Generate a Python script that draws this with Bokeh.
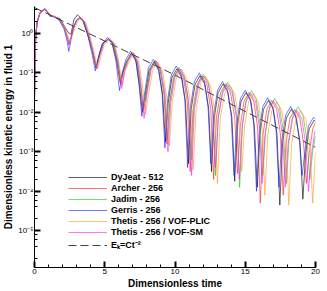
from bokeh.plotting import figure
from bokeh.models import (Range1d, SingleIntervalTicker, LogTicker, CustomJSTickFormatter,
                          Legend, LegendItem)
from bokeh.embed import file_html
from bokeh.resources import INLINE

# ---------------- data ----------------
dyjeat_t = [0.0, 0.04, 0.1, 0.2, 0.4, 0.7, 0.95, 1.2, 1.5, 1.8, 2.1, 2.4, 2.6, 2.8, 3.05, 3.4, 3.78, 4.13,
            4.37, 4.6, 4.85, 5.24, 5.55, 5.85,
            6.1, 6.3, 6.54, 6.89, 7.24, 7.48,
            7.68, 7.88, 8.15, 8.5, 8.85, 9.12,
            9.32, 9.52, 9.78, 10.13, 10.48, 10.75,
            10.95, 11.15, 11.43, 11.78, 12.13, 12.4,
            12.6, 12.8, 13.07, 13.42, 13.77, 14.05,
            14.25, 14.45, 14.7, 15.05, 15.4, 15.65,
            15.85, 16.05, 16.3, 16.65, 17.0, 17.26,
            17.46, 17.66, 17.93, 18.28, 18.63, 18.9,
            19.1, 19.3, 19.55, 19.9, 20.0]
dyjeat_e = [0.02, 0.3, 1.0, 2.0, 3.3, 4.0, 3.4, 2.8, 2.5, 2.4, 1.6, 1.05, 0.95, 2.2, 2.95, 2.3, 0.93, 0.35,
            0.135, 0.29, 0.56, 0.71, 0.55, 0.2,
            0.056, 0.112, 0.19, 0.316, 0.19, 0.045,
            0.01, 0.027, 0.115, 0.19, 0.115, 0.027,
            1.78e-3, 0.0178, 0.0759, 0.126, 0.0759, 0.0178,
            5.0e-4, 0.012, 0.0513, 0.0851, 0.0513, 0.012,
            3.16e-4, 7.41e-3, 0.0316, 0.0525, 0.0316, 7.41e-3,
            1.78e-4, 4.47e-3, 0.019, 0.0316, 0.019, 4.47e-3,
            1.26e-4, 2.82e-3, 0.012, 0.02, 0.012, 2.82e-3,
            4.47e-5, 1.70e-3, 7.24e-3, 0.012, 7.24e-3, 1.70e-3,
            6.31e-5, 8.9e-4, 3.8e-3, 6.31e-3, 5.9e-3]

archer_t = [0.0, 0.04, 0.1, 0.2, 0.4, 0.72, 0.95, 1.1, 1.43, 1.78, 2.13, 2.35, 2.45, 2.6, 2.75, 3.0, 3.2, 3.5, 3.85, 4.15,
            4.4, 4.63, 4.9, 5.28, 5.6, 5.9,
            6.15, 6.35, 6.6, 6.95, 7.3, 7.55,
            7.75, 7.95, 8.24, 8.59, 8.94, 9.22,
            9.42, 9.62, 9.9, 10.25, 10.6, 10.88,
            11.08, 11.28, 11.57, 11.92, 12.27, 12.55,
            12.75, 12.95, 13.25, 13.6, 13.95, 14.25,
            14.45, 14.65, 14.91, 15.26, 15.61, 15.87,
            16.07, 16.27, 16.54, 16.89, 17.24, 17.5,
            17.7, 17.9, 18.18, 18.53, 18.88, 19.15,
            19.35, 19.55, 19.8, 20.0]
archer_e = [0.02, 0.3, 1.0, 2.0, 3.3, 4.1, 3.3, 2.8, 2.7, 2.2, 1.35, 0.75, 0.52, 0.8, 1.4, 2.2, 2.45, 2.0, 0.85, 0.32,
            0.141, 0.282, 0.562, 0.724, 0.562, 0.19,
            0.05, 0.112, 0.19, 0.316, 0.19, 0.0447,
            0.0112, 0.0269, 0.115, 0.19, 0.115, 0.0269,
            1.58e-3, 0.0178, 0.0759, 0.126, 0.0759, 0.0178,
            3.16e-4, 0.0117, 0.0501, 0.0832, 0.0501, 0.0117,
            2.0e-4, 7.41e-3, 0.0316, 0.0525, 0.0316, 7.41e-3,
            2.82e-4, 4.47e-3, 0.019, 0.0316, 0.019, 4.47e-3,
            5.0e-5, 2.82e-3, 0.012, 0.02, 0.012, 2.82e-3,
            7.94e-5, 1.66e-3, 7.08e-3, 0.0117, 7.08e-3, 1.66e-3,
            1.58e-4, 8.9e-4, 3.8e-3, 5.62e-3]

jadim_t = [0.0, 0.04, 0.1, 0.2, 0.4, 0.72, 0.95, 1.1, 1.43, 1.78, 2.13, 2.35, 2.47, 2.62, 2.8, 3.02, 3.25, 3.55, 3.88, 4.17,
           4.4, 4.63, 4.9, 5.28, 5.6, 5.9,
           6.15, 6.35, 6.6, 6.95, 7.3, 7.55,
           7.75, 7.95, 8.25, 8.6, 8.95, 9.25,
           9.45, 9.65, 9.95, 10.3, 10.65, 10.95,
           11.15, 11.35, 11.67, 12.02, 12.37, 12.68,
           12.88, 13.08, 13.39, 13.74, 14.09, 14.4,
           14.6, 14.8, 15.08, 15.43, 15.78, 16.05,
           16.25, 16.45, 16.74, 17.09, 17.44, 17.72,
           17.92, 18.12, 18.41, 18.76, 19.11, 19.4,
           19.6, 19.8, 20.0]
jadim_e = [0.02, 0.3, 1.0, 2.0, 3.3, 4.1, 3.3, 2.7, 2.65, 2.2, 1.4, 0.8, 0.56, 0.8, 1.4, 2.15, 2.4, 1.95, 0.85, 0.33,
           0.141, 0.282, 0.562, 0.741, 0.562, 0.2,
           0.0631, 0.117, 0.2, 0.331, 0.2, 0.0468,
           0.0112, 0.0295, 0.126, 0.209, 0.126, 0.0295,
           2.0e-3, 0.0195, 0.0832, 0.138, 0.0832, 0.0195,
           6.31e-4, 0.0132, 0.0562, 0.0933, 0.0562, 0.0132,
           2.51e-4, 8.13e-3, 0.0347, 0.0575, 0.0347, 8.13e-3,
           1.26e-4, 5.01e-3, 0.0214, 0.0355, 0.0214, 5.01e-3,
           2.51e-4, 3.16e-3, 0.0135, 0.0224, 0.0135, 3.16e-3,
           1.58e-4, 1.95e-3, 8.32e-3, 0.0138, 8.32e-3, 1.95e-3,
           2.0e-4, 1.07e-3, 2.51e-3]

gerris_t = [0.0, 0.04, 0.1, 0.2, 0.4, 0.72, 0.95, 1.1, 1.43, 1.78, 2.1, 2.3, 2.44, 2.6, 2.75, 2.98, 3.2, 3.5, 3.8, 4.1,
            4.33, 4.56, 4.8, 5.19, 5.5, 5.8,
            6.05, 6.25, 6.5, 6.85, 7.2, 7.44,
            7.64, 7.84, 8.11, 8.46, 8.81, 9.08,
            9.28, 9.48, 9.74, 10.09, 10.44, 10.7,
            10.9, 11.1, 11.38, 11.73, 12.08, 12.35,
            12.55, 12.75, 13.03, 13.38, 13.73, 14.0,
            14.2, 14.4, 14.65, 15.0, 15.35, 15.6,
            15.8, 16.0, 16.25, 16.6, 16.95, 17.2,
            17.4, 17.6, 17.88, 18.23, 18.58, 18.85,
            19.05, 19.25, 19.5, 19.85, 20.0]
gerris_e = [0.02, 0.3, 1.0, 2.0, 3.4, 4.2, 3.3, 2.7, 2.6, 2.1, 1.3, 0.7, 0.35, 0.7, 1.3, 2.1, 2.5, 2.0, 0.9, 0.3,
            0.112, 0.25, 0.52, 0.79, 0.6, 0.2,
            0.0355, 0.1, 0.214, 0.355, 0.214, 0.05,
            7.94e-3, 0.031, 0.132, 0.219, 0.132, 0.031,
            1.26e-3, 0.0209, 0.0891, 0.148, 0.0891, 0.0209,
            3.98e-4, 0.0141, 0.0603, 0.1, 0.0603, 0.0141,
            5.0e-4, 8.5e-3, 0.0363, 0.0603, 0.0363, 8.5e-3,
            2.51e-4, 5.13e-3, 0.0219, 0.0363, 0.0219, 5.13e-3,
            1.0e-4, 3.31e-3, 0.0141, 0.0234, 0.0141, 3.31e-3,
            1.26e-4, 2.0e-3, 8.5e-3, 0.0141, 8.5e-3, 2.0e-3,
            2.51e-4, 1.05e-3, 4.47e-3, 7.41e-3, 6.76e-3]

plic_t = [0.0, 0.04, 0.1, 0.2, 0.4, 0.75, 0.98, 1.12, 1.45, 1.8, 2.15, 2.38, 2.52, 2.68, 2.88, 3.1, 3.32, 3.65, 3.98, 4.27,
          4.5, 4.73, 5.0, 5.38, 5.7, 6.0,
          6.25, 6.45, 6.73, 7.08, 7.43, 7.7,
          7.9, 8.1, 8.4, 8.75, 9.1, 9.4,
          9.6, 9.8, 10.1, 10.45, 10.8, 11.1,
          11.3, 11.5, 11.81, 12.16, 12.51, 12.82,
          13.02, 13.22, 13.54, 13.89, 14.24, 14.55,
          14.75, 14.95, 15.23, 15.58, 15.93, 16.2,
          16.4, 16.6, 16.9, 17.25, 17.6, 17.9,
          18.1, 18.3, 18.6, 18.95, 19.3, 19.6,
          19.8, 20.0]
plic_e = [0.02, 0.3, 1.0, 2.0, 3.3, 4.0, 3.3, 2.75, 2.65, 2.2, 1.45, 0.85, 0.62, 0.85, 1.4, 2.1, 2.35, 1.9, 0.8, 0.3,
          0.126, 0.269, 0.562, 0.724, 0.562, 0.19,
          0.05, 0.112, 0.19, 0.316, 0.19, 0.0447,
          8.91e-3, 0.0269, 0.115, 0.19, 0.115, 0.0269,
          1.41e-3, 0.0178, 0.0759, 0.126, 0.0759, 0.0178,
          3.55e-4, 0.0117, 0.0501, 0.0832, 0.0501, 0.0117,
          1.58e-4, 7.08e-3, 0.0302, 0.0501, 0.0302, 7.08e-3,
          3.16e-4, 4.27e-3, 0.0182, 0.0302, 0.0182, 4.27e-3,
          7.94e-5, 2.63e-3, 0.0112, 0.0186, 0.0112, 2.63e-3,
          4.47e-5, 1.55e-3, 6.61e-3, 0.011, 6.61e-3, 1.55e-3,
          5.01e-5, 1.0e-3]

sm_t = [0.0, 0.04, 0.1, 0.2, 0.4, 0.75, 0.95, 1.1, 1.43, 1.78, 2.13, 2.35, 2.45, 2.6, 2.78, 3.0, 3.22, 3.55, 3.9, 4.18,
        4.42, 4.65, 4.93, 5.31, 5.65, 5.95,
        6.2, 6.4, 6.65, 7.0, 7.35, 7.6,
        7.8, 8.0, 8.3, 8.65, 9.0, 9.3,
        9.5, 9.7, 9.99, 10.34, 10.69, 10.98,
        11.18, 11.38, 11.68, 12.03, 12.38, 12.68,
        12.88, 13.08, 13.38, 13.73, 14.08, 14.38,
        14.58, 14.78, 15.04, 15.39, 15.74, 16.0,
        16.2, 16.4, 16.68, 17.03, 17.38, 17.65,
        17.85, 18.05, 18.33, 18.68, 19.03, 19.3,
        19.5, 19.7, 19.95, 20.0]
sm_e = [0.02, 0.3, 1.05, 2.1, 3.5, 4.3, 3.5, 2.8, 2.7, 2.25, 1.35, 0.75, 0.5, 0.8, 1.4, 2.2, 2.5, 2.0, 0.85, 0.32,
        0.126, 0.269, 0.562, 0.741, 0.562, 0.19,
        0.0398, 0.105, 0.195, 0.324, 0.195, 0.0457,
        7.08e-3, 0.0282, 0.12, 0.2, 0.12, 0.0282,
        1.0e-3, 0.0178, 0.0759, 0.126, 0.0759, 0.0178,
        2.51e-4, 0.0117, 0.0501, 0.0832, 0.0501, 0.0117,
        3.98e-4, 7.08e-3, 0.0302, 0.0501, 0.0302, 7.08e-3,
        2.0e-4, 4.27e-3, 0.0182, 0.0302, 0.0182, 4.27e-3,
        1.58e-4, 2.69e-3, 0.0115, 0.0191, 0.0115, 2.69e-3,
        1.26e-4, 1.58e-3, 6.76e-3, 0.0112, 6.76e-3, 1.58e-3,
        1.0e-4, 8.5e-4, 3.16e-3, 3.55e-3]

fit_t = [0.0, 5.0, 10.0, 15.0, 20.0]
fit_e = [4.5, 0.64, 0.088, 0.0105, 1.3e-3]

series = [
    ("DyJeat - 512", dyjeat_t, dyjeat_e, "#000000"),
    ("Archer - 256", archer_t, archer_e, "#ff2020"),
    ("Jadim - 256", jadim_t, jadim_e, "#10d010"),
    ("Gerris - 256", gerris_t, gerris_e, "#2020ff"),
    ("Thetis - 256 / VOF-PLIC", plic_t, plic_e, "#ff9a20"),
    ("Thetis - 256 / VOF-SM", sm_t, sm_e, "#ff20ff"),
]
fit_label = "E\u2096=Ct\u207b\u00b2"
x_title = "Dimensionless time"
y_title = "Dimensionless kinetic energy in fluid 1"

# ---------------- figure ----------------
FONT = "Liberation Sans"
p = figure(width=320, height=291,
           min_border_left=31, min_border_top=6, min_border_right=5, min_border_bottom=22,
           x_range=Range1d(0, 20), y_range=Range1d(1.17e-6, 4.8), y_axis_type="log",
           output_backend="svg", toolbar_location=None)
p.outline_line_color = None
p.xgrid.visible = False
p.ygrid.visible = False
p.background_fill_color = "white"

items = []
for name, t, e, c in series:
    r = p.line(t, e, line_color=c, line_width=1, line_alpha=0.62)
    items.append(LegendItem(label=name, renderers=[r]))
rf = p.line(fit_t, fit_e, line_color="#404040", line_width=1, line_dash="8 4")
items.append(LegendItem(label=fit_label, renderers=[rf]))

xa = p.xaxis[0]
xa.ticker = SingleIntervalTicker(interval=5, num_minor_ticks=5)
ya = p.yaxis[0]
ya.ticker = LogTicker()
ya.formatter = CustomJSTickFormatter(code="""
const e = Math.round(Math.log10(tick));
const sup = {'-':'\u207b','0':'\u2070','1':'\u00b9','2':'\u00b2','3':'\u00b3','4':'\u2074','5':'\u2075','6':'\u2076','7':'\u2077','8':'\u2078','9':'\u2079'};
return '10' + String(e).split('').map(c => sup[c]).join('');
""")
for ax in (xa, ya):
    ax.axis_line_color = "black"
    ax.axis_line_width = 1
    ax.major_tick_in = 6
    ax.major_tick_out = 0
    ax.minor_tick_in = 3
    ax.minor_tick_out = 0
    ax.major_tick_line_width = 2
    ax.major_tick_line_color = "black"
    ax.minor_tick_line_color = "black"
    ax.major_label_text_font = FONT
    ax.major_label_text_font_size = "8px"
    ax.major_label_text_color = "black"
    ax.axis_label_text_font = FONT
    ax.axis_label_text_font_size = "10px"
    ax.axis_label_text_font_style = "bold"
    ax.axis_label_text_color = "black"
    ax.major_label_standoff = 1
    ax.axis_label_standoff = 1
xa.axis_label = x_title
ya.axis_label = y_title

legend = Legend(items=items, location=(34, 16), padding=0, margin=0,
                border_line_color=None, background_fill_alpha=0,
                glyph_width=39, glyph_height=10, label_height=10, spacing=1,
                label_standoff=4, label_text_font=FONT, label_text_font_size="9px",
                label_text_font_style="bold", label_text_color="black")
p.add_layout(legend)

open("out.html", "w").write(file_html(p, INLINE))
